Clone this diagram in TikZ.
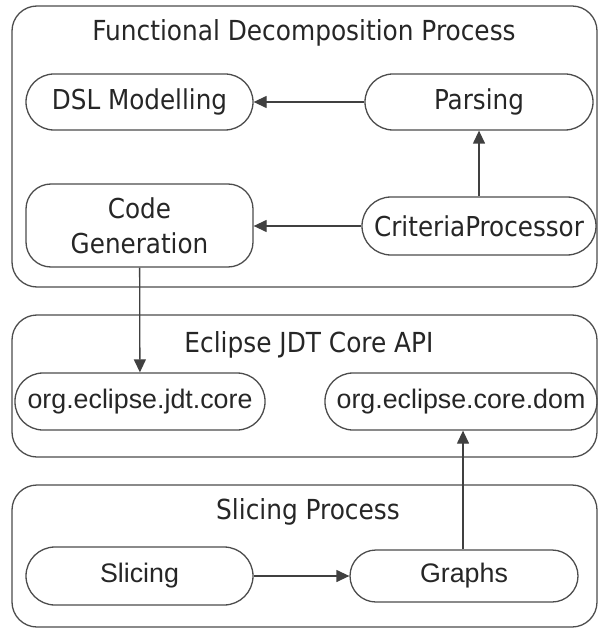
\documentclass[tikz,border=0pt]{standalone}
\usepackage{fontspec}
\setmainfont{DejaVu Sans Condensed}
\newfontfamily\arialf{Liberation Sans}
\usetikzlibrary{arrows.meta}
\begin{document}
\begin{tikzpicture}[x=1pt,y=-1pt,
  grp/.style={draw=black!70, line width=1.3pt, rounded corners=25pt},
  ttl/.style={text=black!85, font=\fontsize{27.6}{30}\selectfont, inner sep=0pt},
  pill/.style={draw=black!70, line width=1.3pt, rounded corners=28pt, minimum height=56pt, inner sep=0pt, text=black!85, font=\fontsize{27.4}{30}\selectfont},
  apill/.style={pill, font=\arialf\fontsize{26.8}{30}\selectfont},
  arr/.style={draw=black!75, line width=1.3pt, -{Triangle[length=13pt,width=12pt]}}
]
\useasboundingbox (0,0) rectangle (598,628);
% group boxes
\draw[grp] (12,6) rectangle (597,287);
\draw[grp] (12,315) rectangle (597,457);
\draw[grp] (12,485) rectangle (597,627);
% titles
\node[ttl] (t1) at (304,33) {Functional Decomposition Process};
\node[ttl] (t2) at (309,345) {Eclipse JDT Core API};
\node[ttl] (t3) at (308,512) {Slicing Process};
% nodes
\node[pill, minimum width=227pt] (dsl) at (139.5,102) {DSL Modelling};
\node[pill, minimum width=228pt] (pars) at (479,102) {Parsing};
\node[pill, minimum width=227pt, minimum height=83pt, rounded corners=25pt, align=center, font=\fontsize{27.4}{35}\selectfont] (code) at (139.5,225.5) {Code\\Generation};
\node[pill, minimum width=234pt, minimum height=58pt, rounded corners=29pt] (crit) at (479,226) {CriteriaProcessor};
\node[apill, minimum width=250pt, minimum height=57pt] (jdt) at (140,401.5) {org.eclipse.jdt.core};
\node[apill, minimum width=272pt, minimum height=57pt] (dom) at (461,401.5) {org.eclipse.core.dom};
\node[apill, minimum width=227pt, minimum height=58pt, rounded corners=29pt] (slc) at (139.5,576) {Slicing};
\node[apill, minimum width=228pt, minimum height=52pt, rounded corners=26pt] (gr) at (464,576) {Graphs};
% connectors
\draw[arr] (pars) -- (dsl);
\draw[arr] (crit.west) -- (crit.west -| code.east);
\draw[arr] (crit) -- (pars);
\draw[arr] (code) -- (jdt);
\draw[arr] (slc) -- (gr);
\draw[arr] (gr.north -| 463,0) -- (dom.south -| 463,0);
\end{tikzpicture}
\end{document}
